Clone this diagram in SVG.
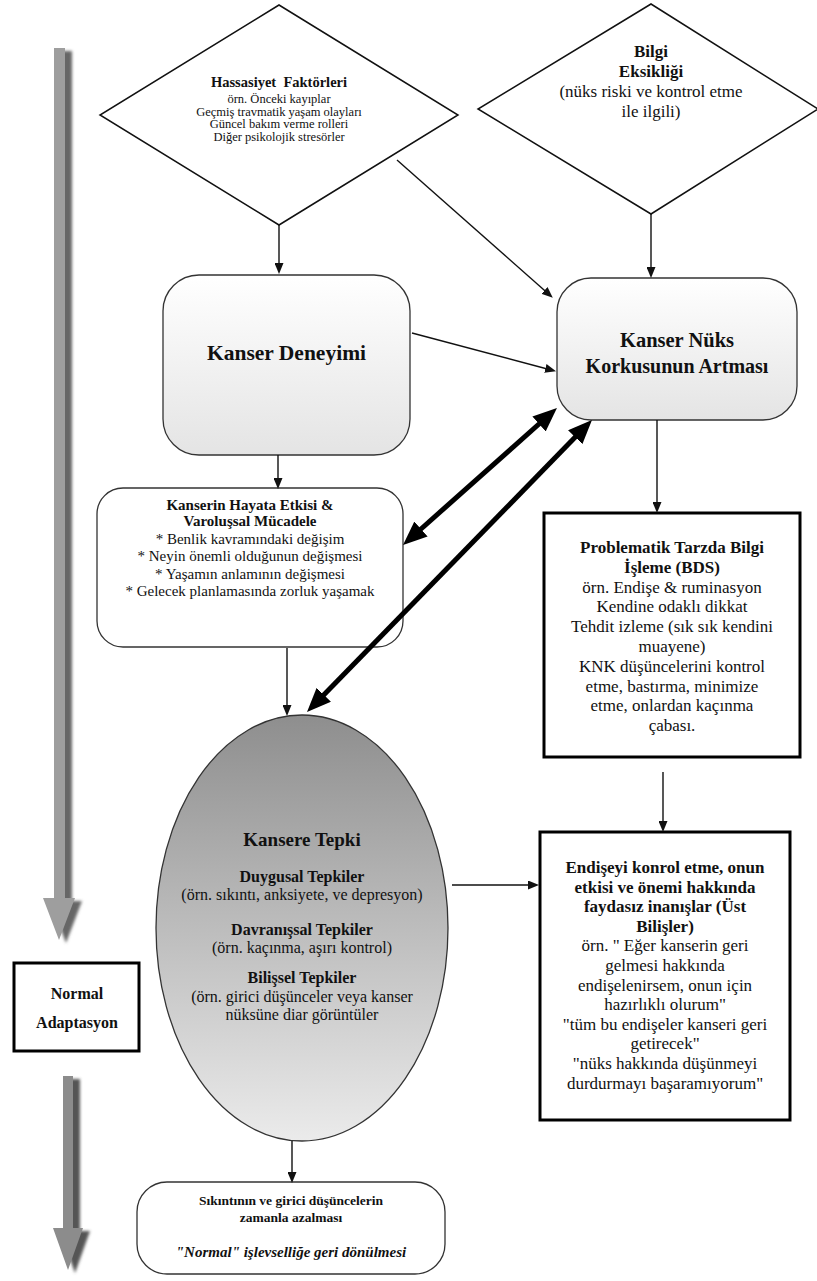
<svg xmlns="http://www.w3.org/2000/svg" width="817" height="1281" viewBox="0 0 817 1281">
<style>
text{font-family:"Liberation Serif","Times New Roman",serif;fill:#111;text-anchor:middle}
.b{font-weight:bold}
.bi{font-weight:bold;font-style:italic}
.dia{fill:#fff;stroke:#111;stroke-width:1.5}
.rr{stroke:#333;stroke-width:1.3}
.sq{fill:#fff;stroke:#000;stroke-width:3}
.thin{stroke:#111;stroke-width:1.4;fill:none;marker-end:url(#ah)}
.thick{stroke:#000;stroke-width:5;fill:none;marker-start:url(#th);marker-end:url(#th)}
</style>
<defs>
<marker id="ah" markerUnits="userSpaceOnUse" markerWidth="11" markerHeight="9" refX="5" refY="4.5" orient="auto"><path d="M0,0 L11,4.5 L0,9 z" fill="#111"/></marker>
<marker id="th" markerUnits="userSpaceOnUse" markerWidth="24" markerHeight="20" refX="12" refY="10" orient="auto-start-reverse"><path d="M0,0 L24,10 L0,20 z" fill="#000"/></marker>
<linearGradient id="gbox" x1="0" y1="0" x2="0" y2="1"><stop offset="0" stop-color="#ffffff"/><stop offset="1" stop-color="#e4e4e4"/></linearGradient>
<linearGradient id="gell" x1="0" y1="0" x2="0" y2="1"><stop offset="0" stop-color="#8e8e8e"/><stop offset="1" stop-color="#ebebeb"/></linearGradient>
<filter id="blur" x="-50%" y="-10%" width="200%" height="120%"><feGaussianBlur stdDeviation="1.6"/></filter>
</defs>

<g id="timeline-top">
<path d="M61,51 H72 V901 H82 L66,943 L50,901 H61 Z" fill="#666" filter="url(#blur)"/>
<path d="M54,48 H65 V898 H75 L59,940 L43,898 H54 Z" fill="#9e9e9e"/>
</g>
<g id="timeline-bottom">
<path d="M70,1079 H80 V1231 H90 L75,1273 L60,1231 H70 Z" fill="#555" filter="url(#blur)"/>
<path d="M63,1076 H73 V1228 H83 L68,1270 L53,1228 H63 Z" fill="#8c8c8c"/>
</g>
<g id="normal-adaptasyon">
<rect class="sq" x="14" y="963" width="125" height="88"/>
<text class="b" x="77" y="999" font-size="16">Normal</text>
<text class="b" x="77" y="1028" font-size="16">Adaptasyon</text>
</g>

<g id="hassasiyet">
<polygon class="dia" points="279,5 458,115 279,225 100,115"/>
<text class="b" x="279" y="87" font-size="14.5" xml:space="preserve">Hassasiyet  Faktörleri</text>
<text x="279" y="103" font-size="12.5">örn. Önceki kayıplar</text>
<text x="279" y="115.7" font-size="12.5">Geçmiş travmatik yaşam olayları</text>
<text x="279" y="128.4" font-size="12.5">Güncel bakım verme rolleri</text>
<text x="279" y="141.1" font-size="12.5">Diğer psikolojik stresörler</text>
</g>

<g id="bilgi">
<polygon class="dia" points="651,4 818,109 651,214 478,109"/>
<text class="b" x="651" y="57" font-size="17">Bilgi</text>
<text class="b" x="651" y="77" font-size="17">Eksikliği</text>
<text x="651" y="97" font-size="17">(nüks riski ve kontrol etme</text>
<text x="651" y="117" font-size="17">ile ilgili)</text>
</g>

<g id="kanser-deneyimi">
<rect class="rr" x="163" y="275" width="247" height="180" rx="36" fill="url(#gbox)"/>
<text class="b" x="286.5" y="360" font-size="21.5">Kanser Deneyimi</text>
</g>

<g id="kanser-nuks">
<rect class="rr" x="557" y="278" width="240" height="142" rx="34" fill="url(#gbox)"/>
<text class="b" x="677" y="347" font-size="20.5">Kanser Nüks</text>
<text class="b" x="677" y="373" font-size="20">Korkusunun Artması</text>
</g>

<g id="hayata-etkisi">
<rect class="rr" x="97" y="488" width="306" height="159" rx="26" fill="#fff"/>
<text class="b" x="250" y="510" font-size="15">Kanserin Hayata Etkisi &amp;</text>
<text class="b" x="250" y="526" font-size="15">Varoluşsal Mücadele</text>
<text x="250" y="543.5" font-size="15">* Benlik kavramındaki değişim</text>
<text x="250" y="561" font-size="15">* Neyin önemli olduğunun değişmesi</text>
<text x="250" y="578.5" font-size="15">* Yaşamın anlamının değişmesi</text>
<text x="250" y="596" font-size="15">* Gelecek planlamasında zorluk yaşamak</text>
</g>

<g id="problematik">
<rect class="sq" x="544" y="513" width="256" height="244"/>
<text class="b" x="672" y="553" font-size="17">Problematik Tarzda Bilgi</text>
<text class="b" x="672" y="572.8" font-size="17">İşleme (BDS)</text>
<text x="672" y="592.6" font-size="17">örn. Endişe &amp; ruminasyon</text>
<text x="672" y="612.4" font-size="17">Kendine odaklı dikkat</text>
<text x="672" y="632.2" font-size="17">Tehdit izleme (sık sık kendini</text>
<text x="672" y="652" font-size="17">muayene)</text>
<text x="672" y="671.8" font-size="17">KNK düşüncelerini kontrol</text>
<text x="672" y="691.6" font-size="17">etme, bastırma, minimize</text>
<text x="672" y="711.4" font-size="17">etme, onlardan kaçınma</text>
<text x="672" y="731.2" font-size="17">çabası.</text>
</g>

<g id="kansere-tepki">
<ellipse cx="302" cy="928" rx="146" ry="213" fill="url(#gell)" stroke="#333" stroke-width="1.3"/>
<text class="b" x="302" y="846" font-size="19">Kansere Tepki</text>
<text class="b" x="302" y="882" font-size="16">Duygusal Tepkiler</text>
<text x="302" y="900" font-size="16">(örn. sıkıntı, anksiyete, ve depresyon)</text>
<text class="b" x="302" y="935" font-size="16">Davranışsal Tepkiler</text>
<text x="302" y="953" font-size="16">(örn. kaçınma, aşırı kontrol)</text>
<text class="b" x="302" y="983" font-size="16">Bilişsel Tepkiler</text>
<text x="302" y="1002" font-size="16">(örn. girici düşünceler veya kanser</text>
<text x="302" y="1020" font-size="16">nüksüne diar görüntüler</text>
</g>

<g id="ust-bilisler">
<rect class="sq" x="540" y="832" width="250" height="288"/>
<text class="b" x="665" y="873" font-size="17">Endişeyi konrol etme, onun</text>
<text class="b" x="665" y="892.6" font-size="17">etkisi ve önemi hakkında</text>
<text class="b" x="665" y="912.2" font-size="17">faydasız inanışlar (Üst</text>
<text class="b" x="665" y="931.8" font-size="17">Bilişler)</text>
<text x="665" y="951.4" font-size="17">örn. " Eğer kanserin geri</text>
<text x="665" y="971" font-size="17">gelmesi hakkında</text>
<text x="665" y="990.6" font-size="17">endişelenirsem, onun için</text>
<text x="665" y="1010.2" font-size="17">hazırlıklı olurum"</text>
<text x="665" y="1029.8" font-size="17">"tüm bu endişeler kanseri geri</text>
<text x="665" y="1049.4" font-size="17">getirecek"</text>
<text x="665" y="1069" font-size="17">"nüks hakkında düşünmeyi</text>
<text x="665" y="1088.6" font-size="17">durdurmayı başaramıyorum"</text>
</g>

<g id="normal-islevsellik">
<rect class="rr" x="137" y="1182" width="308" height="92" rx="30" fill="#fff"/>
<text class="b" x="291" y="1205" font-size="13.5">Sıkıntının ve girici düşüncelerin</text>
<text class="b" x="291" y="1222" font-size="13.5">zamanla azalması</text>
<text class="bi" x="291" y="1257" font-size="15">"Normal" işlevselliğe geri dönülmesi</text>
</g>

<g id="connectors">
<line class="thin" x1="279" y1="225" x2="279" y2="268"/>
<line class="thin" x1="651" y1="214" x2="651" y2="272"/>
<line class="thin" x1="397" y1="160" x2="548.3" y2="293.7"/>
<line class="thin" x1="412" y1="333" x2="550.2" y2="369.7"/>
<line class="thin" x1="278" y1="455" x2="278" y2="483"/>
<line class="thin" x1="287" y1="648" x2="287" y2="710"/>
<line class="thin" x1="657" y1="420" x2="657" y2="507"/>
<line class="thin" x1="663" y1="772" x2="663" y2="826"/>
<line class="thin" x1="452" y1="885" x2="533" y2="885"/>
<line class="thin" x1="292" y1="1141" x2="292" y2="1177"/>
<line class="thick" x1="548" y1="416" x2="412" y2="537"/>
<line class="thick" x1="583.6" y1="428.6" x2="315.4" y2="703.4"/>
</g>
</svg>
